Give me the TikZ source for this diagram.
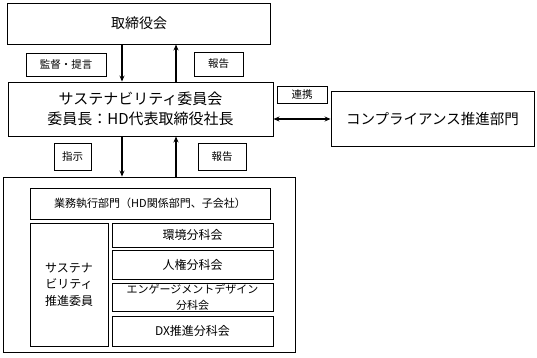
\documentclass[tikz,border=0pt]{standalone}
\usepackage{fontspec}
\setmainfont{Noto Sans CJK JP}
\usepackage{tikz}
\usetikzlibrary{arrows.meta, positioning, calc}

\tikzset{
  orgbox/.style={draw, line width=0.9pt, inner sep=0pt, align=center},
  lblbox/.style={draw, line width=0.8pt, inner sep=0pt, font=\fontsize{10.5}{12}\selectfont},
  flow/.style={line width=1.1pt, -{Stealth[length=6pt,width=5pt]}},
}

\begin{document}
\begin{tikzpicture}[x=1pt, y=-1pt]
  \useasboundingbox (0,0) rectangle (537,357);
  % upper part
  \node[orgbox, minimum width=263pt, minimum height=41pt, font=\fontsize{14}{16}\selectfont]
    (board) at (139,23.5) {取締役会};
  \node[orgbox, minimum width=265pt, minimum height=54pt, font=\fontsize{15}{20}\selectfont]
    (committee) at (140.5,109) {サステナビリティ委員会\\委員長：HD代表取締役社長};
  \node[orgbox, minimum width=203pt, minimum height=55pt, font=\fontsize{14.5}{16}\selectfont]
    (compliance) at (432.5,118.5) {コンプライアンス推進部門};
  \node[lblbox, minimum width=80pt, minimum height=23pt] (supervise) at (66,64.5) {監督・提言};
  \node[lblbox, minimum width=49pt, minimum height=24pt] (report1) at (218.5,64) {報告};
  \node[lblbox, minimum width=50pt, minimum height=17pt] (link) at (302,94.5) {連携};
  % lower part
  \node[draw, line width=0.9pt, minimum width=292pt, minimum height=175pt] (exec) at (149,264.5) {};
  \node[lblbox, minimum width=37pt, minimum height=27pt] (instruct) at (72.5,156.5) {指示};
  \node[lblbox, minimum width=48pt, minimum height=27pt] (report2) at (222,156.5) {報告};
  \node[orgbox, minimum width=240pt, minimum height=31pt, font=\fontsize{11}{13}\selectfont]
    (dept) at (150,203.5) {業務執行部門（HD関係部門、子会社）};
  \node[orgbox, minimum width=78pt, minimum height=123pt, font=\fontsize{12}{16.5}\selectfont]
    (members) at (69,284.5) {サステナ\\ビリティ\\推進委員};
  \foreach \name/\yc/\boxh/\fsz/\txt in {env/235/24/12/環境分科会, rights/264.5/29/12/人権分科会,
      engage/297/28/11/{エンゲージメントデザイン\\分科会}, dx/331/30/12/DX推進分科会}{
    \node[orgbox, minimum width=161pt, minimum height=\boxh pt, font=\fontsize{\fsz}{16}\selectfont]
      (\name) at (192.5,\yc) {\txt};
  }
  % connectors
  \draw[flow] (board.south -| 122,0) -- (committee.north -| 122,0);
  \draw[flow] (committee.north -| 176,0) -- (board.south -| 176,0);
  \draw[flow] (committee.south -| 122,0) -- (exec.north -| 122,0);
  \draw[flow] (exec.north -| 176,0) -- (committee.south -| 176,0);
  \draw[flow, {Stealth[length=6pt,width=5pt]}-{Stealth[length=6pt,width=5pt]}]
    (committee.east |- 0,119) -- (compliance.west |- 0,119);
\end{tikzpicture}
\end{document}
